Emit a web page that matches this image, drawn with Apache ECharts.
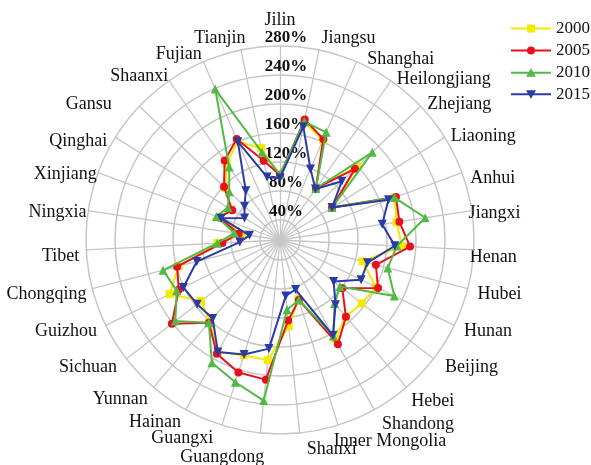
<!DOCTYPE html>
<html>
<head>
<meta charset="utf-8">
<script src="https://cdn.jsdelivr.net/npm/echarts@6/dist/echarts.min.js"></script>
<style>
  html, body { margin: 0; padding: 0; background: #fff; }
  #chart { width: 591px; height: 465px; }
</style>
</head>
<body>
<div id="chart"></div>
<script>
// Provinces, listed clockwise starting from the top spoke
const provinces = ['Jilin', 'Jiangsu', 'Shanghai', 'Heilongjiang', 'Zhejiang', 'Liaoning', 'Anhui',
  'Jiangxi', 'Henan', 'Hubei', 'Hunan', 'Beijing', 'Hebei', 'Shandong', 'Inner Mongolia', 'Shanxi',
  'Guangdong', 'Guangxi', 'Hainan', 'Yunnan', 'Sichuan', 'Guizhou', 'Chongqing', 'Tibet', 'Ningxia',
  'Xinjiang', 'Qinghai', 'Gansu', 'Shaanxi', 'Fujian', 'Tianjin'];

// Values in percent, same order as provinces
const v2000 = [102, 178, 163, 99, 160, 97, 181, 175, 181, 130, 160, 155, 152, 168, 98, 132,
  179, 179, 189, 161, 150, 182, 157, 99, 65, 102, 92, 116, 141, 160, 142];
const v2005 = [102, 182, 164, 99, 155, 97, 183, 179, 192, 149, 163, 121, 152, 177, 99, 124,
  206, 204, 192, 163, 201, 168, 159, 92, 70, 102, 90, 119, 146, 164, 124];
const v2010 = [103, 179, 174, 99, 188, 97, 181, 215, 174, 166, 188, 117, 128, 164, 99, 109,
  235, 218, 206, 163, 195, 171, 179, 99, 76, 106, 97, 109, 135, 239, 136];
const v2015 = [98, 172, 119, 98, 130, 97, 172, 155, 171, 137, 137, 106, 130, 163, 84, 90,
  163, 178, 189, 155, 157, 161, 131, 68, 55, 99, 70, 80, 95, 160, 101];

const years = ['2000', '2005', '2010', '2015'];
const radialTicks = [40, 80, 120, 160, 200, 240, 280];

// Small hand offsets [dx, dy] for the province names around the rim
const nameNudge = {
  Tianjin: [7, 0], Fujian: [3, 4], Shaanxi: [6, 5], Gansu: [-19, 6], Qinghai: [2, 10],
  Xinjiang: [10, 6], Ningxia: [10, 3], Tibet: [5, 6], Chongqing: [6, 3], Guizhou: [2, 1],
  Sichuan: [0, 1], Yunnan: [2, 3], Hainan: [1, 2], Guangxi: [-5, 2], Guangdong: [5, 12],
  Shanxi: [6, 4], 'Inner Mongolia': [-8, 5], Shandong: [2, 4], Hebei: [-3, 5], Beijing: [2, 1],
  Hunan: [-1, 1], Hubei: [-2, 3], Henan: [-16, 7], Jiangxi: [-15, 4], Anhui: [-3, 10],
  Liaoning: [-4, 5], Zhejiang: [-2, 6], Heilongjiang: [-1, 8], Shanghai: [6, 9]
};

// Radar indicators run counter-clockwise, so keep the first one on top and reverse the rest
const order = [0].concat(provinces.map((_, i) => i).slice(1).reverse());
const reorder = arr => order.map(i => arr[i]);

const SERIF = '"Liberation Serif", "Times New Roman", serif';
const GRID = '#c6c6c6';
const CENTER = [280, 240];
const NAME_FONT = { fontFamily: SERIF, fontSize: 18, color: '#111' };

const styles = [
  { color: '#f2ea00', symbol: 'rect', size: 8,
    icon: 'path://M0,4 L40,4 L40,6 L0,6 Z M16,1 L24,1 L24,9 L16,9 Z' },
  { color: '#e8101c', symbol: 'circle', size: 8,
    icon: 'path://M0,4 L40,4 L40,6 L0,6 Z M16,5 A4,4 0 1,1 24,5 A4,4 0 1,1 16,5 Z' },
  { color: '#52b946', symbol: 'triangle', size: 9,
    icon: 'path://M0,4 L40,4 L40,6 L0,6 Z M20,0.5 L25,9 L15,9 Z' },
  { color: '#2a3aa6', symbol: 'path://M0,0 L10,0 L5,9 Z', size: 9,
    icon: 'path://M0,4 L40,4 L40,6 L0,6 Z M15,1 L25,1 L20,9.5 Z' }
];
const values = [v2000, v2005, v2010, v2015];

// Rich-text style per rim name: padding moves the text by its nudge.
// Names on the right half are left-aligned, those on the left half right-aligned.
const nameRich = {};
provinces.forEach((name, ci) => {
  const n = nameNudge[name] || [0, 0];
  const top = n[1] > 0 ? 2 * n[1] : 0;
  const bottom = n[1] < 0 ? -2 * n[1] : 0;
  let pad = [top, 0, bottom, 0];
  if (ci > 0) {
    const rightSide = ci <= (provinces.length - 1) / 2;
    pad = rightSide ? [top, 0, bottom, n[0]] : [top, -n[0], bottom, 0];
  }
  nameRich['n' + ci] = Object.assign({ padding: pad }, NAME_FONT);
});

const indicators = order.map((ci, k) => {
  const ind = {
    name: provinces[ci],
    min: radialTicks[0],
    max: radialTicks[radialTicks.length - 1]
  };
  if (k === 0) ind.axisLabel = { show: true };
  return ind;
});

const chart = echarts.init(document.getElementById('chart'), null, { renderer: 'canvas' });
chart.setOption({
  animation: false,
  backgroundColor: '#fff',
  legend: {
    orient: 'vertical',
    left: 511,
    top: 20,
    padding: 0,
    itemWidth: 40,
    itemHeight: 10,
    itemGap: 5,
    textStyle: { fontFamily: SERIF, fontSize: 17, color: '#111' },
    data: years.map((y, i) => ({ name: y, icon: styles[i].icon }))
  },
  radar: [
    {
      // rings, province names and percent labels
      center: CENTER,
      radius: [20, 194],
      startAngle: 90,
      shape: 'circle',
      splitNumber: radialTicks.length - 1,
      indicator: indicators,
      axisName: Object.assign({
        formatter: name => '{n' + provinces.indexOf(name) + '|' + name + '}',
        rich: nameRich
      }, NAME_FONT),
      nameGap: 12,
      splitLine: { lineStyle: { color: GRID, width: 1.5 } },
      splitArea: { show: false },
      axisLine: { show: false },
      axisTick: { show: false },
      axisLabel: {
        show: false,
        formatter: '{value}%',
        fontFamily: SERIF,
        fontSize: 17,
        fontWeight: 'bold',
        color: '#111',
        align: 'center',
        verticalAlign: 'bottom',
        margin: -6
      }
    },
    {
      // spokes running all the way to the centre
      center: CENTER,
      radius: 194,
      startAngle: 90,
      shape: 'circle',
      indicator: reorder(provinces).map(name => ({ name: name, min: 0, max: 1 })),
      axisName: { show: false },
      splitLine: { show: false },
      splitArea: { show: false },
      axisTick: { show: false },
      axisLabel: { show: false },
      axisLine: { lineStyle: { color: GRID, width: 1.3 } }
    }
  ],
  series: years.map((y, i) => ({
    type: 'radar',
    radarIndex: 0,
    z: 2 + i,
    symbol: styles[i].symbol,
    symbolSize: styles[i].size,
    itemStyle: { color: styles[i].color },
    lineStyle: { color: styles[i].color, width: 2 },
    data: [{ name: y, value: reorder(values[i]) }]
  }))
});
</script>
</body>
</html>
